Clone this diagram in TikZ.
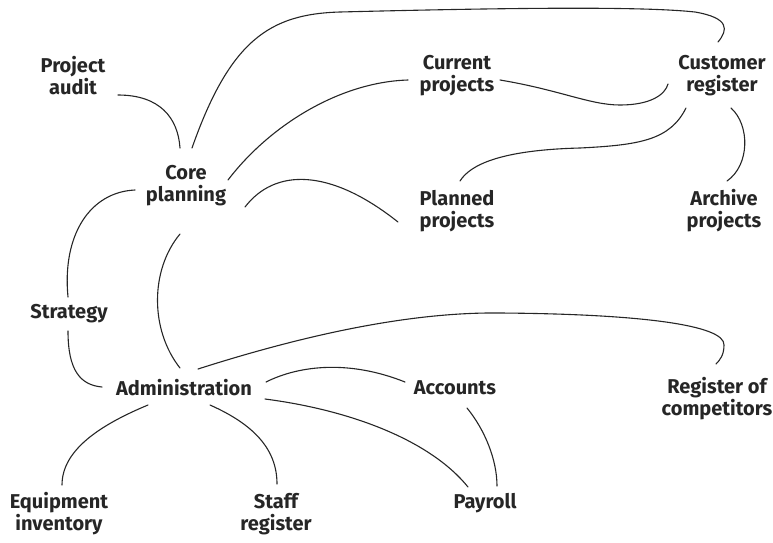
\documentclass[tikz,border=0pt]{standalone}
\usepackage{fontspec}
\setmainfont{Fira Sans}
\usetikzlibrary{calc}
\definecolor{ink}{HTML}{262626}
\tikzset{
  topic/.style={font=\fontsize{20}{22}\selectfont\bfseries, text=ink, align=center, inner sep=0pt},
  link/.style={draw=ink, line width=1.1pt, line cap=round},
}
\begin{document}
\begin{tikzpicture}[x=1pt, y=-1pt]
\useasboundingbox (0,0) rectangle (773,542);

% topics
\node[topic] (audit)       at (73,76)   {Project\\audit};
\node[topic] (core)        at (186,186) {Core\\planning};
\node[topic] (current)     at (457,76)  {Current\\projects};
\node[topic] (customer)    at (722,76)  {Customer\\register};
\node[topic] (planned)     at (457,211) {Planned\\projects};
\node[topic] (archive)     at (724,211) {Archive\\projects};
\node[topic] (strategy)    at (69,314)  {Strategy};
\node[topic] (admin)       at (184,388) {Administration};
\node[topic] (accounts)    at (455,388) {Accounts};
\node[topic] (competitors) at (717,399) {Register of\\competitors};
\node[topic] (equipment)   at (59,514)  {Equipment\\inventory};
\node[topic] (staff)       at (276,514) {Staff\\register};
\node[topic] (payroll)     at (485,503) {Payroll};

% links around core planning
\draw[link] ($(audit)+(45,19)$) .. controls (160,95) and (178,118) .. ($(core)+(-6,-38)$);
\draw[link] ($(core)+(6,-38)$) .. controls (230,40) and (270,14) .. (340,12)
  .. controls (500,8) and (640,6) .. (695,12)
  .. controls (730,18) and (728,30) .. ($(customer)+(-4,-34)$);
\draw[link] ($(core)+(42,-6)$) .. controls (270,125) and (340,82) .. ($(current)+(-49,4)$);
\draw[link] ($(core)+(59,21)$) .. controls (275,168) and (330,168) .. ($(planned)+(-59,11)$);
\draw[link] ($(core)+(-51,4)$) .. controls (90,192) and (62,235) .. ($(strategy)+(-1,-17)$);
\draw[link] ($(core)+(-6,48)$) .. controls (150,270) and (150,330) .. ($(admin)+(-4,-20)$);

% links around customer register
\draw[link] ($(current)+(43,4)$) .. controls (560,90) and (590,105) .. (620,105)
  .. controls (650,105) and (665,95) .. ($(customer)+(-54,8)$);
\draw[link] ($(customer)+(-36,32)$) .. controls (670,140) and (640,145) .. (580,148)
  .. controls (500,150) and (470,165) .. ($(planned)+(3,-30)$);
\draw[link] ($(customer)+(9,32)$) .. controls (750,125) and (750,165) .. ($(archive)+(3,-30)$);

% links around administration
\draw[link] ($(strategy)+(-1,17)$) .. controls (68,370) and (80,385) .. ($(admin)+(-82,-1)$);
\draw[link] ($(admin)+(14,-19)$) .. controls (320,330) and (420,312) .. (500,313)
  .. controls (640,314) and (725,325) .. (724,345)
  .. controls (724,355) and (720,360) .. ($(competitors)+(-1,-35)$);
\draw[link] ($(admin)+(82,-6)$) .. controls (300,365) and (350,360) .. ($(accounts)+(-50,-6)$);
\draw[link] ($(admin)+(81,11)$) .. controls (350,410) and (430,440) .. ($(payroll)+(-17,-16)$);
\draw[link] ($(accounts)+(12,20)$) .. controls (485,430) and (497,460) .. ($(payroll)+(12,-17)$);
\draw[link] ($(admin)+(-36,17)$) .. controls (100,425) and (62,450) .. ($(equipment)+(3,-29)$);
\draw[link] ($(admin)+(26,17)$) .. controls (255,425) and (277,450) .. ($(staff)+(1,-30)$);
\end{tikzpicture}
\end{document}
